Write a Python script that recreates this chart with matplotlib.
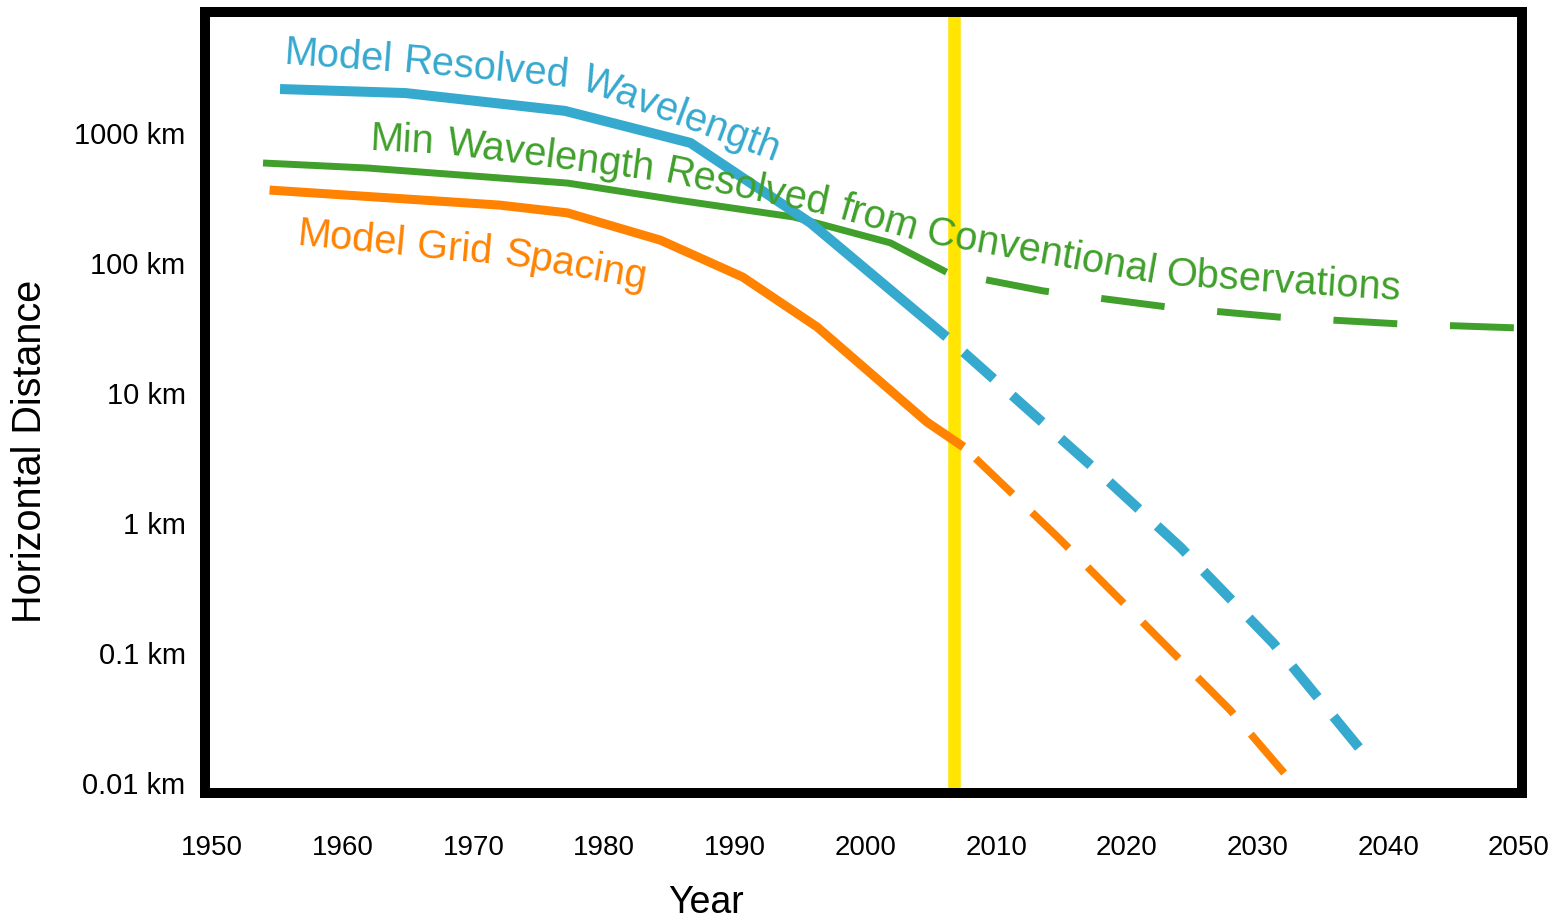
import numpy as np
import matplotlib
matplotlib.use("Agg")
import matplotlib.pyplot as plt
from matplotlib.font_manager import FontProperties

plt.rcParams['font.family'] = ['Liberation Sans', 'DejaVu Sans']

# Model Resolved Wavelength (km): observed part, then projection
res_years = [1955.2, 1964.8, 1977.0, 1986.6, 1995.8, 2006.2]
res_km = [2180, 2030, 1480, 840, 203, 27]
res_proj_years = [2006.2, 2018.5, 2024.1, 2031.2, 2038.1]
res_proj_km = [27, 2.14, 0.65, 0.119, 0.017]

# Min wavelength resolved from conventional observations (km)
obs_years = [1953.9, 1961.9, 1977.2, 1985.6, 1994.5, 2001.9, 2006.2]
obs_km = [588, 538, 412, 305, 226, 143, 85]
obs_proj_years = [2006.2, 2013.6, 2023.1, 2031.6, 2040.9, 2050.2]
obs_proj_km = [85, 61, 45.9, 38.4, 34, 31.6]

# Model grid spacing (km)
grid_years = [1954.4, 1972.0, 1977.2, 1984.3, 1990.6, 1996.3, 2004.7, 2007.5]
grid_km = [364, 279, 243, 150, 78, 32.2, 5.98, 3.85]
grid_proj_years = [2007.5, 2014.7, 2023.1, 2027.9, 2032.3]
grid_proj_km = [3.85, 0.78, 0.111, 0.0364, 0.0111]

now_year = 2006.8

x_ticks = [1950, 1960, 1970, 1980, 1990, 2000, 2010, 2020, 2030, 2040, 2050]
y_ticks = [0.01, 0.1, 1, 10, 100, 1000]
y_labels = ['0.01 km', '0.1 km', '1 km', '10 km', '100 km', '1000 km']

blue = '#36A9CE'
green = '#40A02B'
orange = '#FF8200'
yellow = '#FFE500'

W, H = 1557, 923
fig = plt.figure(figsize=(W / 100, H / 100), dpi=100)
ax = fig.add_axes([205 / W, 1 - 793 / H, 1317 / W, 781 / H])

ax.axvline(now_year, ymin=0.005, ymax=0.995, color=yellow, lw=9, zorder=1)

ax.plot(res_years, res_km, color=blue, lw=7.2, solid_capstyle='butt', zorder=3)
ax.plot(res_proj_years, res_proj_km, color=blue, lw=7.2,
        linestyle=(4.2, (4.0, 2.5)), dash_capstyle='butt', zorder=3)

ax.plot(obs_years, obs_km, color=green, lw=5, solid_capstyle='butt', zorder=2)
ax.plot(obs_proj_years, obs_proj_km, color=green, lw=5,
        linestyle=(11.0, (9.2, 7.6)), dash_capstyle='butt', zorder=2)

ax.plot(grid_years, grid_km, color=orange, lw=6.5, solid_capstyle='butt', zorder=3)
ax.plot(grid_proj_years, grid_proj_km, color=orange, lw=5.5,
        linestyle=(8.0, (6.7, 3.5)), dash_capstyle='butt', zorder=3)

ax.set_yscale('log')
ax.set_xlim(1949.46, 2050.23)
ax.set_ylim(0.00838, 8530)
ax.set_xticks(x_ticks)
ax.set_xticklabels([str(y) for y in x_ticks], fontsize=20)
ax.set_yticks(y_ticks)
ax.set_yticklabels(y_labels, fontsize=21)
ax.yaxis.set_minor_locator(plt.NullLocator())
ax.tick_params(axis='both', which='both', length=0)
ax.tick_params(axis='x', pad=30)
ax.tick_params(axis='y', pad=14)

for s in ax.spines.values():
    s.set_linewidth(7.2)
    s.set_color('black')

# curved labels: words laid one after another, each with its own slope
labels = [
    (blue, 1955.5, 3400, [("Model", 4), ("Resolved", 5.3), ("Wavelength", 20.5)]),
    (green, 1962.1, 740, [("Min", 3), ("Wavelength", 7.2), ("Resolved", 11.7),
                          ("from", 16), ("Conventional", 10), ("Observations", 3.7)]),
    (orange, 1956.5, 137, [("Model", 5.5), ("Grid", 5), ("Spacing", 10)]),
]
fsize = 28.7
renderer = fig.canvas.get_renderer()
fp = FontProperties(family=['Liberation Sans', 'DejaVu Sans'], size=fsize)
sp = (renderer.get_text_width_height_descent("x x", fp, ismath=False)[0]
      - renderer.get_text_width_height_descent("xx", fp, ismath=False)[0])
for col, x0, y0, words in labels:
    px, py = ax.transData.transform((x0, y0))
    for w, ang in words:
        xd, yd = ax.transData.inverted().transform((px, py))
        ax.text(xd, yd, w, color=col, fontsize=fsize, rotation=-ang,
                rotation_mode='anchor', ha='left', va='baseline', zorder=4)
        wid = renderer.get_text_width_height_descent(w, fp, ismath=False)[0]
        a = np.radians(ang)
        px += (wid + sp) * np.cos(a)
        py -= (wid + sp) * np.sin(a)

fig.text(30 / W, 1 - 451 / H, 'Horizontal Distance', rotation=90,
         ha='center', va='center', fontsize=28.5)
fig.text(706 / W, 1 - 903 / H, 'Year', ha='center', va='center', fontsize=27)

fig.savefig('out.png', dpi=100)
